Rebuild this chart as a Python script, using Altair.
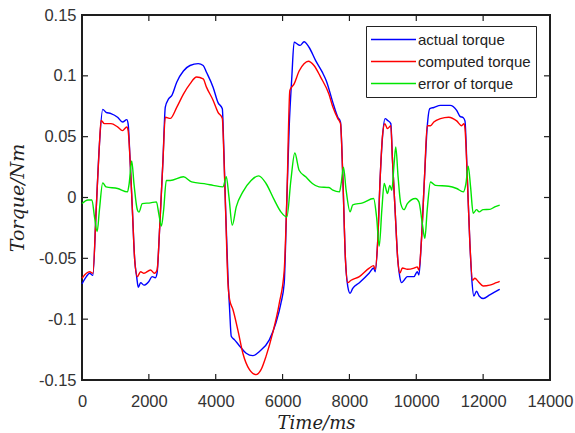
import altair as alt
import pandas as pd

# ---------------- data ----------------
actual_t = [0, 130, 230, 325, 424, 522, 620, 719, 867, 1064, 1212, 1340, 1380, 1438, 1507, 1576, 1635, 1684,
            1753, 1852, 2000, 2098, 2196, 2246, 2325, 2423, 2492, 2590, 2689, 2837, 3034, 3231, 3477, 3625,
            3723, 3921, 4069, 4198, 4238, 4297, 4366, 4416, 4465, 4564, 4713, 4911, 5109, 5307, 5604, 5802,
            5950, 6049, 6119, 6198, 6277, 6346, 6445, 6524, 6643, 6792, 6990, 7188, 7307, 7505, 7653, 7733,
            7802, 7881, 7950, 8020, 8099, 8297, 8594, 8723, 8772, 8842, 8921, 8990, 9069, 9139, 9238, 9287,
            9366, 9446, 9505, 9564, 9634, 9733, 9931, 10029, 10079, 10148, 10247, 10327, 10406, 10525, 10723,
            11010, 11208, 11307, 11406, 11456, 11525, 11604, 11663, 11723, 11802, 11881, 12000, 12198, 12396, 12495]
actual_y = [-0.071, -0.065, -0.0623, -0.064, -0.010, 0.044, 0.0724, 0.070, 0.069, 0.066, 0.062, 0.064, 0.0606,
            0.031, -0.010, -0.051, -0.065, -0.0738, -0.070, -0.072, -0.069, -0.065, -0.066, -0.062, -0.024,
            0.031, 0.0743, 0.081, 0.084, 0.095, 0.104, 0.1085, 0.110, 0.1085,
            0.103, 0.0907, 0.078, 0.073, 0.044, -0.010, -0.065, -0.092, -0.114, -0.117, -0.122, -0.128, -0.130,
            -0.1265, -0.117, -0.103, -0.087, -0.0705, -0.010, 0.058, 0.099, 0.1277, 0.126, 0.125, 0.128,
            0.1235, 0.1125, 0.1030, 0.096, 0.078, 0.066, 0.062,
            0.017, -0.051, -0.073, -0.0787, -0.0746, -0.070, -0.062, -0.058, -0.061, -0.038, 0.017, 0.050,
            0.0648, 0.0634, 0.0607, 0.031, -0.010, -0.051, -0.065, -0.070, -0.068, -0.065, -0.065, -0.061,
            -0.0637, -0.038, 0.017, 0.058, 0.073, 0.074, 0.0757,
            0.0757, 0.0716, 0.0667, 0.0656, 0.063, 0.017, -0.038, -0.068, -0.081, -0.077, -0.081, -0.083,
            -0.080, -0.077, -0.0754]

computed_t = [0, 130, 230, 325, 424, 522, 571, 670, 867, 1064, 1212, 1340, 1380, 1438, 1507, 1576, 1655, 1753,
              1852, 2049, 2167, 2246, 2325, 2423, 2492, 2640, 2837, 3034, 3231, 3428, 3625,
              3723, 3921, 4069, 4198, 4238, 4297, 4366, 4416, 4515, 4663, 4812, 5010, 5208, 5356, 5505, 5703,
              5901, 6049, 6129, 6218, 6346, 6495, 6643, 6772, 6940, 7138, 7386,
              7505, 7653, 7733, 7802, 7881, 7950, 8049, 8297, 8594, 8723, 8772, 8842, 8921, 8990, 9059, 9139,
              9238, 9287, 9366, 9446, 9505, 9584, 9733, 9931, 10029, 10079, 10148, 10247, 10327, 10426, 10525,
              10723, 10970,
              11208, 11357, 11426, 11456, 11525, 11604, 11683, 11753, 11852, 12000, 12198, 12396, 12495]
computed_y = [-0.0664, -0.0623, -0.061, -0.0623, -0.010, 0.044, 0.0634, 0.0607, 0.0607, 0.058, 0.055, 0.058,
              0.055, 0.031, -0.010, -0.051, -0.065, -0.061, -0.0623, -0.0596, -0.0623, -0.0596, -0.024, 0.031,
              0.066, 0.065, 0.0743, 0.085, 0.0934, 0.099, 0.0975,
              0.0907, 0.080, 0.070, 0.065, 0.040, -0.012, -0.070, -0.084, -0.092, -0.109, -0.128, -0.1415,
              -0.1456, -0.1415, -0.1306, -0.1115, -0.087, -0.060, 0.0, 0.088, 0.0934, 0.104, 0.110, 0.112,
              0.1085, 0.099, 0.085,
              0.0743, 0.0648, 0.0607, 0.017, -0.051, -0.070, -0.068, -0.065, -0.058, -0.056, -0.059, -0.038,
              0.017, 0.051, 0.0607, 0.0566, 0.059, 0.031, -0.010, -0.051, -0.0623, -0.058, -0.059, -0.058,
              -0.057, -0.0596, -0.038, 0.017, 0.059, 0.059, 0.062, 0.0648, 0.066,
              0.063, 0.059, 0.0607, 0.057, 0.017, -0.038, -0.068, -0.0664, -0.069, -0.0727, -0.072, -0.070,
              -0.069]

error_t = [0, 177, 296, 374, 453, 522, 620, 719, 1064, 1360, 1409, 1487, 1556, 1655, 1704, 1803, 2049, 2226,
           2295, 2374, 2443, 2522, 2640, 3034, 3280, 3723,
           3921, 4218, 4317, 4396, 4495, 4614, 4812, 5059, 5287, 5505, 5752, 5950, 6129, 6248, 6366, 6495,
           6693, 6891, 7089, 7386,
           7505, 7703, 7752, 7822, 7901, 8020, 8099, 8396, 8723, 8812, 8891, 8970, 9040, 9139, 9208, 9267,
           9337, 9386, 9456, 9535, 9634, 9733, 9980, 10079, 10178, 10257, 10327, 10426, 10574, 10970,
           11208, 11406, 11485, 11554, 11624, 11703, 11802, 11881, 12000, 12198, 12347, 12495]
error_y = [-0.005, -0.002, -0.002, -0.016, -0.028, -0.010, 0.012, 0.0087, 0.0074, 0.0046, 0.011, 0.030, 0.011,
           -0.010, -0.012, -0.005, -0.0044, -0.0036, -0.013, -0.0235, -0.010, 0.014, 0.014, 0.017, 0.0128,
           0.011,
           0.010, 0.0087, 0.017, 0.0005, -0.0227, -0.0077, 0.0046, 0.014, 0.0178, 0.0115, -0.002, -0.0118,
           -0.016, 0.014, 0.0366, 0.0224, 0.017, 0.0115, 0.0087, 0.0082,
           0.006, 0.0046, 0.0115, 0.025, 0.006, -0.0118, -0.006, -0.0044, -0.0008, -0.016, -0.040, -0.010,
           0.0115, 0.0033, 0.010, 0.006, 0.028, 0.0415, 0.017, -0.005, -0.010, -0.005, -0.0008, -0.0036,
           -0.021, -0.0336, -0.010, 0.0128, 0.010, 0.0093,
           0.0074, 0.0046, 0.0115, 0.0257, 0.0087, -0.013, -0.010, -0.0118, -0.010, -0.0098, -0.0077, -0.0063]

series_names = ["actual torque", "computed torque", "error of torque"]
series_colors = ["#0000ff", "#ff0000", "#00e600"]
x_ticks = [0, 2000, 4000, 6000, 8000, 10000, 12000, 14000]
y_ticks = [-0.15, -0.1, -0.05, 0, 0.05, 0.1, 0.15]

# ---------------- chart ----------------
W, H = 468, 365
FRAME = "#1e1e1e"
xs = alt.Scale(domain=[0, 14000], nice=False, zero=False)
ys = alt.Scale(domain=[-0.15, 0.15], nice=False, zero=False)
cs = alt.Scale(domain=series_names, range=series_colors)

xaxis = alt.Axis(values=x_ticks, format="d", tickSize=0, domain=False, grid=False, labelFlush=False,
                 labelOverlap=False, labelFont="Liberation Sans", labelFontSize=16.5, labelColor="#333333",
                 labelPadding=13, title="Time/ms", titleFont="DejaVu Serif", titleFontStyle="italic",
                 titleFontWeight="normal", titleFontSize=18, titleColor="#222222", titlePadding=5)
yaxis = alt.Axis(values=y_ticks, labelExpr="'' + datum.value", tickSize=0, domain=False, grid=False,
                 labelFlush=False, labelOverlap=False, labelFont="Liberation Sans", labelFontSize=16.5,
                 labelColor="#333333", labelPadding=6, title="Torque/Nm", titleFont="DejaVu Serif",
                 titleFontStyle="italic", titleFontWeight="normal", titleFontSize=19, titleColor="#222222",
                 titlePadding=11)
legend = alt.Legend(orient="none", legendX=284, legendY=11, title=None, symbolType="M-3,0H3",
                    symbolSize=225, symbolStrokeWidth=1.4, symbolOffset=14, labelOffset=16,
                    labelFont="Liberation Sans", labelFontSize=15, labelColor="#222222",
                    strokeColor="#222222", fillColor="white", padding=5, rowPadding=5)


def line_layer(t, y, name):
    df = pd.DataFrame({"t": t, "torque": y, "series": name})
    return alt.Chart(df).mark_line(strokeWidth=1.4, interpolate="monotone").encode(
        x=alt.X("t:Q", scale=xs, axis=xaxis),
        y=alt.Y("torque:Q", scale=ys, axis=yaxis),
        color=alt.Color("series:N", scale=cs, legend=legend),
    )


xt = pd.DataFrame({"t": x_ticks})
yt = pd.DataFrame({"torque": y_ticks})
tick_style = dict(color=FRAME, strokeWidth=1.2)
bottom_ticks = alt.Chart(xt).mark_rule(**tick_style).encode(
    x=alt.X("t:Q", scale=xs, axis=xaxis), y=alt.value(H), y2=alt.value(H - 6))
top_ticks = alt.Chart(xt).mark_rule(**tick_style).encode(
    x=alt.X("t:Q", scale=xs, axis=xaxis), y=alt.value(0), y2=alt.value(6))
left_ticks = alt.Chart(yt).mark_rule(**tick_style).encode(
    y=alt.Y("torque:Q", scale=ys, axis=yaxis), x=alt.value(0), x2=alt.value(6))
right_ticks = alt.Chart(yt).mark_rule(**tick_style).encode(
    y=alt.Y("torque:Q", scale=ys, axis=yaxis), x=alt.value(W), x2=alt.value(W - 6))

chart = alt.layer(
    line_layer(actual_t, actual_y, series_names[0]),
    line_layer(computed_t, computed_y, series_names[1]),
    line_layer(error_t, error_y, series_names[2]),
    bottom_ticks, top_ticks, left_ticks, right_ticks,
).properties(
    width=W, height=H,
    autosize=alt.AutoSizeParams(type="none"),
    padding={"left": 82, "top": 15, "right": 25, "bottom": 53},
    background="white",
).configure_view(stroke=FRAME, strokeWidth=2)

chart.save("out.html", embed_options={"renderer": "svg", "actions": False})
